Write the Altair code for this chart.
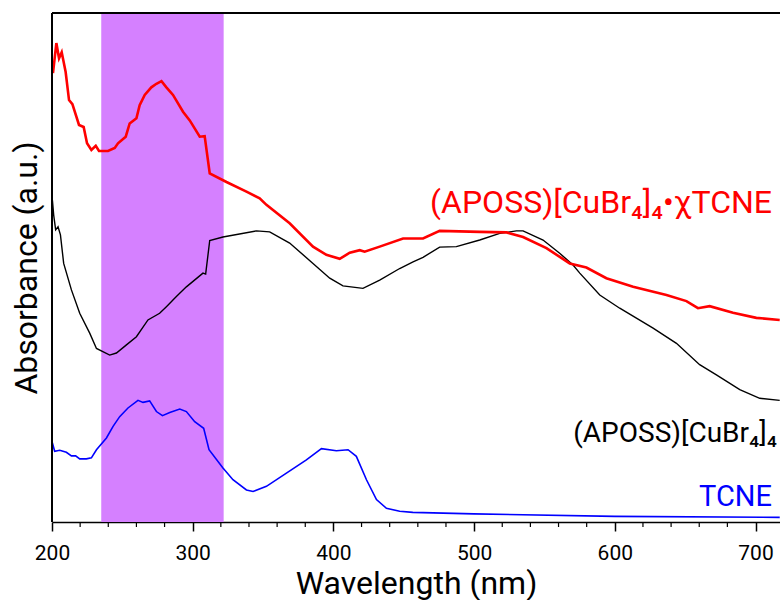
import altair as alt
import pandas as pd

# ---- data ----
red_nm = [200.7, 203.1, 205.0, 206.9, 209.7, 212.1, 214.5, 219.2, 222.5, 224.9, 228.0, 231.1,
          233.4, 239.8, 244.6, 246.9, 252.4, 255.2, 260.0, 262.3, 265.9, 270.6, 274.2, 277.8,
          281.3, 286.0, 293.1, 297.9, 305.0, 308.5, 312.1, 324.0, 338.2, 347.6, 352.4, 368.9,
          385.5, 395.0, 404.5, 411.6, 418.7, 422.2, 432.9, 449.5, 463.7, 475.5, 504.0, 523.0,
          534.8, 551.4, 568.0, 579.8, 594.0, 613.0, 636.7, 650.9, 659.1, 667.4, 684.0, 700.6, 717.2]
red_abs = [0.882, 0.941, 0.911, 0.923, 0.884, 0.829, 0.821, 0.780, 0.776, 0.744, 0.731, 0.739,
           0.729, 0.729, 0.735, 0.744, 0.757, 0.783, 0.793, 0.819, 0.839, 0.854, 0.861, 0.866,
           0.854, 0.839, 0.806, 0.789, 0.757, 0.758, 0.685, 0.668, 0.649, 0.636, 0.623, 0.587,
           0.541, 0.525, 0.517, 0.529, 0.534, 0.531, 0.541, 0.557, 0.557, 0.572, 0.570, 0.569,
           0.560, 0.538, 0.508, 0.500, 0.479, 0.462, 0.446, 0.434, 0.420, 0.424, 0.411, 0.401, 0.397]

black_nm = [200.3, 201.2, 202.6, 204.3, 206.0, 208.3, 213.8, 219.7, 226.8, 231.6, 241.0, 245.8,
            252.9, 260.0, 268.2, 276.5, 281.3, 288.4, 295.5, 307.3, 309.2, 312.1, 321.5, 345.3,
            354.7, 368.9, 385.5, 397.4, 406.8, 421.0, 432.9, 447.1, 456.6, 463.7, 475.5, 487.4,
            504.0, 518.2, 530.1, 534.8, 549.0, 560.8, 570.3, 575.1, 589.3, 603.5, 627.2, 643.8,
            660.3, 672.2, 688.8, 703.0, 717.2]
black_abs = [0.632, 0.603, 0.574, 0.580, 0.564, 0.508, 0.456, 0.410, 0.371, 0.341, 0.328, 0.332,
             0.348, 0.364, 0.397, 0.410, 0.423, 0.443, 0.462, 0.489, 0.487, 0.553, 0.560, 0.572,
             0.570, 0.548, 0.508, 0.479, 0.464, 0.459, 0.475, 0.498, 0.511, 0.520, 0.540, 0.541,
             0.554, 0.567, 0.572, 0.572, 0.554, 0.528, 0.505, 0.489, 0.446, 0.420, 0.381, 0.351,
             0.309, 0.289, 0.260, 0.243, 0.239]

blue_nm = [200.0, 201.9, 205.5, 210.2, 213.8, 216.8, 219.7, 224.4, 228.0, 231.6, 238.7, 243.4,
           248.1, 254.0, 261.1, 264.7, 269.4, 274.2, 278.5, 283.7, 290.8, 295.5, 301.4, 307.8,
           311.6, 321.5, 328.6, 338.2, 342.9, 352.4, 366.6, 380.8, 391.5, 402.1, 410.4, 416.3,
           423.5, 430.6, 437.7, 447.1, 456.4, 499.7, 599.9, 717.2]
blue_abs = [0.158, 0.139, 0.141, 0.137, 0.130, 0.130, 0.124, 0.124, 0.126, 0.142, 0.165, 0.188,
            0.207, 0.224, 0.239, 0.235, 0.238, 0.217, 0.209, 0.215, 0.222, 0.217, 0.197, 0.184,
            0.142, 0.106, 0.083, 0.063, 0.060, 0.070, 0.096, 0.122, 0.144, 0.140, 0.142, 0.129,
            0.083, 0.044, 0.027, 0.021, 0.019, 0.016, 0.011, 0.009]

band_start = [235]
band_end = [322]

major_ticks = [200, 300, 400, 500, 600, 700]
minor_ticks = [220, 240, 260, 280, 320, 340, 360, 380, 420, 440, 460, 480,
               520, 540, 560, 580, 620, 640, 660, 680]

labels = ["(APOSS)[CuBr₄]₄•χTCNE", "(APOSS)[CuBr₄]₄", "TCNE"]

# ---- chart ----
FONT = "Roboto"
W, H = 728, 509
xscale = alt.Scale(domain=[200, 717.4], nice=False, zero=False)
yscale = alt.Scale(domain=[0, 1], nice=False, zero=False)

xaxis = alt.Axis(values=major_ticks, title="Wavelength (nm)", grid=False,
                 tickSize=9, tickWidth=1.5, tickColor="black",
                 domainColor="black", domainWidth=1.5,
                 labelFont=FONT, labelFontSize=21, labelColor="black", labelPadding=11,
                 labelFlush=False,
                 titleFont=FONT, titleFontSize=32, titleFontWeight="normal", titleColor="black",
                 titleBaseline="alphabetic", titleY=71)
yaxis = alt.Axis(title="Absorbance (a.u.)", labels=False, ticks=False, domain=False, grid=False,
                 titleFont=FONT, titleFontSize=32, titleFontWeight="normal", titleColor="black",
                 titleBaseline="alphabetic", titleX=-16)

band_df = pd.DataFrame({"start": band_start, "end": band_end})
band = alt.Chart(band_df).mark_rect(color="#D580FF", opacity=1).encode(
    x=alt.X("start:Q", scale=xscale, axis=xaxis),
    x2="end:Q",
    y=alt.value(0), y2=alt.value(H),
)

def line(nm, ab, color, width):
    df = pd.DataFrame({"nm": nm, "abs": ab})
    return alt.Chart(df).mark_line(color=color, strokeWidth=width, interpolate="linear").encode(
        x=alt.X("nm:Q", scale=xscale, axis=xaxis),
        y=alt.Y("abs:Q", scale=yscale, axis=yaxis),
    )

black_line = line(black_nm, black_abs, "black", 1.4)
blue_line = line(blue_nm, blue_abs, "#0000FF", 1.6)
red_line = line(red_nm, red_abs, "#FF0000", 2.6)

minor_df = pd.DataFrame({"t": minor_ticks})
minor = alt.Chart(minor_df).mark_rule(color="black", strokeWidth=1.2).encode(
    x=alt.X("t:Q", scale=xscale, axis=xaxis),
    y=alt.value(H), y2=alt.value(H + 5),
)

# frame lines (top and left border of the plot box)
frame_df = pd.DataFrame({"k": [0]})
top_rule = alt.Chart(frame_df).mark_rule(color="black", strokeWidth=2).encode(
    x=alt.value(0), x2=alt.value(W), y=alt.value(0))
left_rule = alt.Chart(frame_df).mark_rule(color="black", strokeWidth=2).encode(
    x=alt.value(0), y=alt.value(0), y2=alt.value(H))

def label(text, color, size, px, py):
    df = pd.DataFrame({"label": [text]})
    return alt.Chart(df).mark_text(color=color, font=FONT, fontSize=size, align="right",
                                   baseline="alphabetic").encode(
        x=alt.value(px), y=alt.value(py), text="label:N")

red_lab = label(labels[0], "#FF0000", 32, 720, 200)
black_lab = label(labels[1], "black", 28, 725, 429)
blue_lab = label(labels[2], "#0000FF", 29, 720, 493)

chart = alt.layer(band, black_line, blue_line, red_line, minor, top_rule, left_rule,
                  red_lab, black_lab, blue_lab).properties(
    width=W, height=H,
    autosize=alt.AutoSizeParams(type="none"),
    padding={"left": 52, "top": 13, "right": 0, "bottom": 78},
).configure_view(stroke="black", strokeWidth=2).configure(background="white")

chart.save("out.html", embed_options={"renderer": "svg", "actions": False})
